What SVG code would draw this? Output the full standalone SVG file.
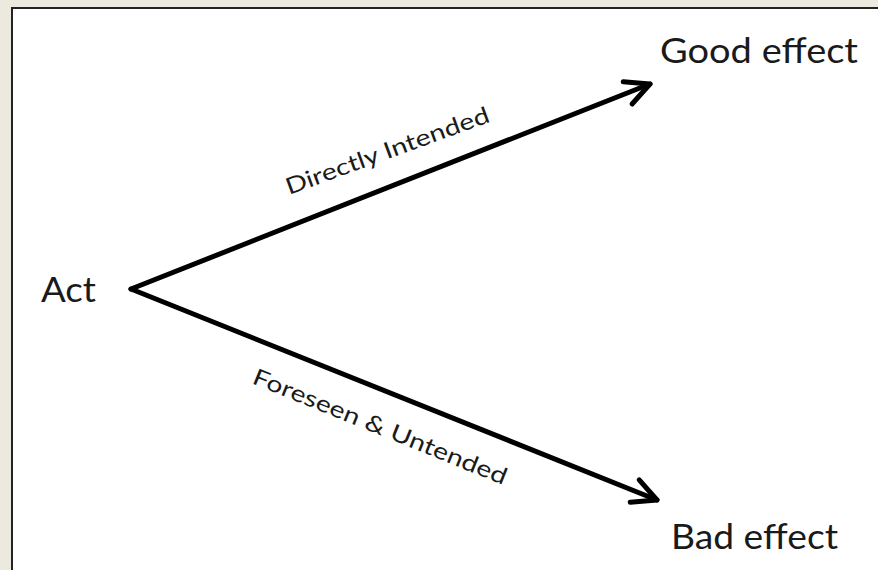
<svg xmlns="http://www.w3.org/2000/svg" width="878" height="570" viewBox="0 0 878 570">
  <style>
    .lbl { font-family: Lato, "Open Sans", "Liberation Sans", sans-serif; fill: #1a1a1a; }
    .big { font-size: 35px; }
    .small { font-size: 23px; }
    .conn { stroke: #000; stroke-width: 5; fill: none; stroke-linecap: round; }
  </style>
  <defs>
    <marker id="arrow" markerUnits="userSpaceOnUse" viewBox="-30 -16 36 32" refX="0" refY="0" markerWidth="36" markerHeight="32" orient="auto">
      <path d="M-24,-12 L0,0 L-24,12" fill="none" stroke="#000" stroke-width="5" stroke-linecap="round" stroke-linejoin="round"/>
    </marker>
  </defs>
  <rect x="0" y="0" width="878" height="570" fill="#ECE9DE"/>
  <rect x="12" y="8" width="866" height="562" fill="#FFFFFF"/>
  <path d="M12,570 V8 H878" fill="none" stroke="#222" stroke-width="2"/>

  <g id="connectors">
    <g id="edge-good">
      <line class="conn" x1="131" y1="289" x2="650" y2="84" marker-end="url(#arrow)"/>
      <text class="lbl small" transform="translate(289,195) rotate(-20)" textLength="215" lengthAdjust="spacingAndGlyphs">Directly Intended</text>
    </g>
    <g id="edge-bad">
      <line class="conn" x1="131" y1="289" x2="657" y2="500" marker-end="url(#arrow)"/>
      <text class="lbl small" transform="translate(251,383) rotate(22)" textLength="272" lengthAdjust="spacingAndGlyphs">Foreseen &amp; Untended</text>
    </g>
  </g>

  <g id="node-act">
    <text class="lbl big" x="41" y="302" textLength="55" lengthAdjust="spacingAndGlyphs">Act</text>
  </g>
  <g id="node-good">
    <text class="lbl big" x="660" y="63" textLength="198" lengthAdjust="spacingAndGlyphs">Good effect</text>
  </g>
  <g id="node-bad">
    <text class="lbl big" x="671" y="549" textLength="167" lengthAdjust="spacingAndGlyphs">Bad effect</text>
  </g>
</svg>
